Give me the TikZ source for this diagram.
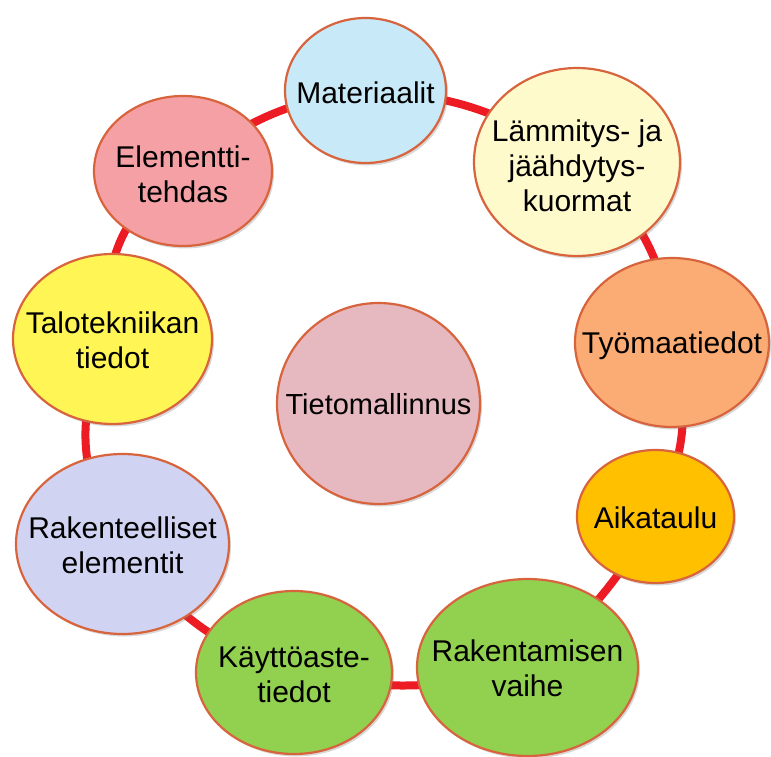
\documentclass[tikz,border=0pt]{standalone}
\usepackage{fontspec}
\setmainfont{Liberation Sans}
\usetikzlibrary{shapes.geometric,shadows}
\pgfdeclarelayer{bg}
\pgfsetlayers{bg,main}
\definecolor{ring}{RGB}{237,28,36}
\definecolor{rim}{RGB}{216,100,62}
\definecolor{cMat}{RGB}{199,233,248}
\definecolor{cLam}{RGB}{255,250,204}
\definecolor{cTyo}{RGB}{251,172,116}
\definecolor{cAik}{RGB}{255,192,0}
\definecolor{cGreen}{RGB}{146,208,80}
\definecolor{cRakt}{RGB}{208,212,242}
\definecolor{cTalo}{RGB}{255,245,85}
\definecolor{cEle}{RGB}{244,160,164}
\definecolor{cTie}{RGB}{230,184,192}
\begin{document}
\begin{tikzpicture}[x=1pt,y=1pt,
  ball/.style={ellipse, draw=rim, line width=2.2pt, inner sep=0pt,
    drop shadow={shadow xshift=2pt,shadow yshift=-2.5pt,opacity=0.25,fill=black!60}},
  lbl/.style={align=center, font=\fontsize{30}{35}\selectfont, inner sep=0pt},
  lblone/.style={lbl, text height=22pt, text depth=0pt},
  link/.style={draw=ring, line width=8pt}]
\useasboundingbox (0,0) rectangle (771,-757);
% circles
\node[ball, fill=cMat,  minimum width=161pt, minimum height=145pt] (mat)  at (365.5,-90.5) {};
\node[ball, fill=cLam,  minimum width=206pt, minimum height=188pt] (lam)  at (577,-162) {};
\node[ball, fill=cTyo,  minimum width=194pt, minimum height=169pt] (tyo)  at (672,-342.5) {};
\node[ball, fill=cAik,  minimum width=157pt, minimum height=133pt] (aik)  at (655.5,-516.5) {};
\node[ball, fill=cGreen,minimum width=221pt, minimum height=177pt] (rak)  at (527.5,-667.5) {};
\node[ball, fill=cGreen,minimum width=196pt, minimum height=163pt] (kay)  at (294,-672.5) {};
\node[ball, fill=cRakt, minimum width=213pt, minimum height=180pt] (rakt) at (122.5,-544) {};
\node[ball, fill=cTalo, minimum width=199pt, minimum height=170pt] (talo) at (112.5,-339) {};
\node[ball, fill=cEle,  minimum width=178pt, minimum height=150pt] (ele)  at (183,-171) {};
\node[ball, fill=cTie,  minimum width=203pt, minimum height=201pt] (tie)  at (378.5,-403.5) {};
% texts
\node[lblone] (matT)  at ([yshift=-2pt]mat)  {Materiaalit};
\node[lbl] (lamT)  at ([yshift=-4pt]lam)  {Lämmitys- ja\\jäähdytys-\\kuormat};
\node[lblone] (tyoT)  at (tyo)  {Työmaatiedot};
\node[lblone] (aikT)  at ([yshift=-1pt]aik)  {Aikataulu};
\node[lbl] (rakT)  at ([yshift=-1pt]rak)  {Rakentamisen\\vaihe};
\node[lbl] (kayT)  at ([yshift=-2.5pt]kay)  {Käyttöaste-\\tiedot};
\node[lbl] (raktT) at ([yshift=-1pt]rakt) {Rakenteelliset\\elementit};
\node[lbl] (taloT) at ([yshift=-1pt]talo) {Talotekniikan\\tiedot};
\node[lbl] (eleT)  at ([yshift=-3pt]ele)  {Elementti-\\tehdas};
\node[lblone, font=\fontsize{29}{35}\selectfont] (tieT) at (tie) {Tietomallinnus};
% ring connectors
\begin{pgfonlayer}{bg}
\fill[white] (0,0) rectangle (771,-757);
\draw[link] (mat.center)  to[bend left=16] (lam.center);
\draw[link] (lam.center)  to[bend left=24] (tyo.center);
\draw[link] (tyo.center)  to[bend left=21] (aik.center);
\draw[link] (aik.center)  to[bend left=10] (rak.center);
\draw[link] (rak.center)  to[bend left=13] (kay.center);
\draw[link] (kay.center)  to[bend left=18] (rakt.center);
\draw[link] (rakt.center) to[bend left=32] (talo.center);
\draw[link] (talo.center) to[bend left=35] (ele.center);
\draw[link] (ele.center)  to[bend left=16] (mat.center);
\end{pgfonlayer}
\end{tikzpicture}
\end{document}
